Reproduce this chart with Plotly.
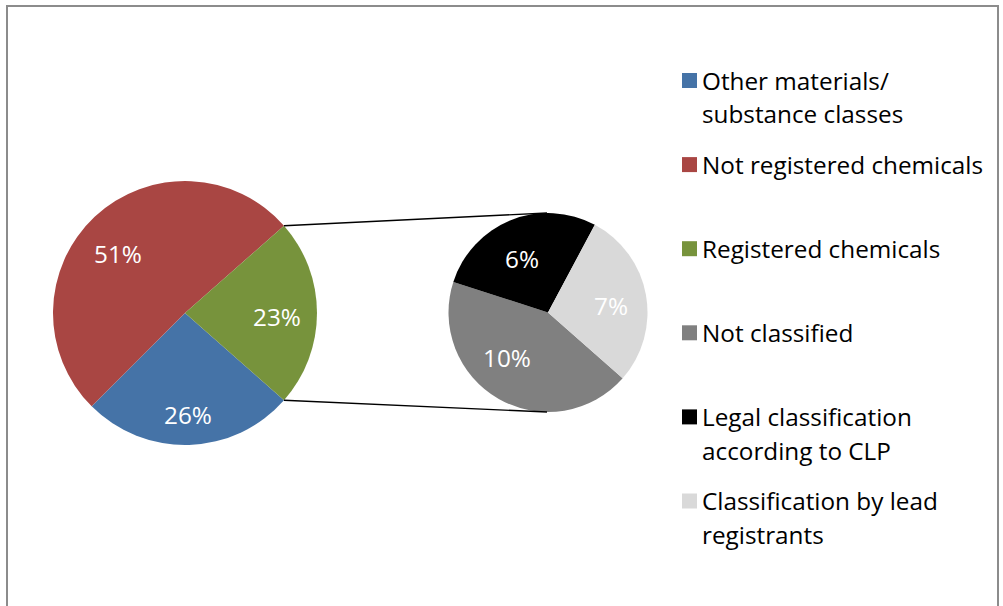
import math
import plotly.graph_objects as go

# ---------------- data ----------------
main_labels = ["Other materials/<br>substance classes", "Not registered chemicals", "Registered chemicals"]
main_values = [26, 51, 23]
main_colors = ["#4573A7", "#A94643", "#77933C"]

sub_labels = ["Not classified", "Legal classification<br>according to CLP", "Classification by lead<br>registrants"]
sub_values = [10.0, 6.4, 6.6]
sub_colors = ["#808080", "#000000", "#D9D9D9"]

# ---------------- layout / style constants (pixels) ----------------
W, H = 1003, 606
FONT = "Open Sans"
FS = 24.3
main_c, main_r = (185.0, 313.0), 132.0
sub_c, sub_r = (548.0, 312.5), 99.5
# label placement (fraction of radius, angular nudge in degrees)
main_lab_rf, main_lab_da = [0.77, 0.68, 0.70], [0, -5, 2]
sub_lab_rf, sub_lab_da = [0.61, 0.60, 0.64], [13, -4, 4]


def px(x):
    return x / W


def py(y):
    return 1 - y / H


green_share = main_values[2] / sum(main_values)
rotation = 90 + green_share * 360 / 2

fig = go.Figure()
fig.add_trace(go.Pie(
    values=main_values, labels=main_labels, sort=False, direction="clockwise",
    rotation=rotation, marker=dict(colors=main_colors),
    textinfo="none",
    domain=dict(x=[px(main_c[0] - main_r), px(main_c[0] + main_r)],
                y=[py(main_c[1] + main_r), py(main_c[1] - main_r)]),
    showlegend=False, hoverinfo="label+value",
))
fig.add_trace(go.Pie(
    values=sub_values, labels=sub_labels, sort=False, direction="clockwise",
    rotation=rotation, marker=dict(colors=sub_colors),
    textinfo="none",
    domain=dict(x=[px(sub_c[0] - sub_r), px(sub_c[0] + sub_r)],
                y=[py(sub_c[1] + sub_r), py(sub_c[1] - sub_r)]),
    showlegend=False, hoverinfo="label+value",
))

annotations = []


def add_slice_labels(values, center, r, rfs, das):
    total = sum(values)
    start = rotation
    for v, rf, da in zip(values, rfs, das):
        span = v / total * 360
        mid = math.radians(start + span / 2 + da)
        x = center[0] + rf * r * math.sin(mid)
        y = center[1] - rf * r * math.cos(mid)
        annotations.append(dict(xref="paper", yref="paper", x=px(x), y=py(y),
                                text=f"{v:.0f}%", showarrow=False,
                                xanchor="center", yanchor="middle",
                                font=dict(family=FONT, size=FS, color="white")))
        start += span


add_slice_labels(main_values, main_c, main_r, main_lab_rf, main_lab_da)
add_slice_labels(sub_values, sub_c, sub_r, sub_lab_rf, sub_lab_da)

shapes = []
# outer chart border
shapes.append(dict(type="rect", xref="paper", yref="paper",
                   x0=px(7), x1=px(998), y0=py(640), y1=py(6),
                   line=dict(color="#8C8C8C", width=2), fillcolor="rgba(0,0,0,0)"))

# connector lines from the edges of the "Registered chemicals" slice to the second pie
a_top = math.radians(rotation - green_share * 360)
a_bot = math.radians(rotation)
for a, ty in [(a_top, sub_c[1] - sub_r), (a_bot, sub_c[1] + sub_r)]:
    x0 = main_c[0] + main_r * math.sin(a)
    y0 = main_c[1] - main_r * math.cos(a)
    shapes.append(dict(type="line", xref="paper", yref="paper",
                       x0=px(x0), y0=py(y0), x1=px(sub_c[0] - 1), y1=py(ty),
                       line=dict(color="black", width=1.4)))

# custom legend
leg_labels = main_labels + sub_labels
leg_colors = main_colors + sub_colors
leg_x_sq, leg_x_txt = 689.5, 700
leg_y0, leg_step, line_step, sq = 80.5, 84.1, 34, 15
for i, (lab, col) in enumerate(zip(leg_labels, leg_colors)):
    yc = leg_y0 + i * leg_step
    shapes.append(dict(type="rect", xref="paper", yref="paper",
                       x0=px(leg_x_sq - sq / 2), x1=px(leg_x_sq + sq / 2),
                       y0=py(yc + sq / 2), y1=py(yc - sq / 2),
                       line=dict(width=0), fillcolor=col))
    for j, part in enumerate(lab.split("<br>")):
        annotations.append(dict(xref="paper", yref="paper", x=px(leg_x_txt), y=py(yc + j * line_step - 0.5),
                                text=part, showarrow=False, xanchor="left", yanchor="middle",
                                font=dict(family=FONT, size=FS, color="black")))

fig.update_layout(
    width=W, height=H, margin=dict(l=0, r=0, t=0, b=0),
    paper_bgcolor="white", plot_bgcolor="white",
    shapes=shapes, annotations=annotations,
    font=dict(family=FONT),
)

fig.write_html("out.html", config={"displayModeBar": False},
               post_script="document.body.style.margin='0';document.body.style.overflow='hidden';")
